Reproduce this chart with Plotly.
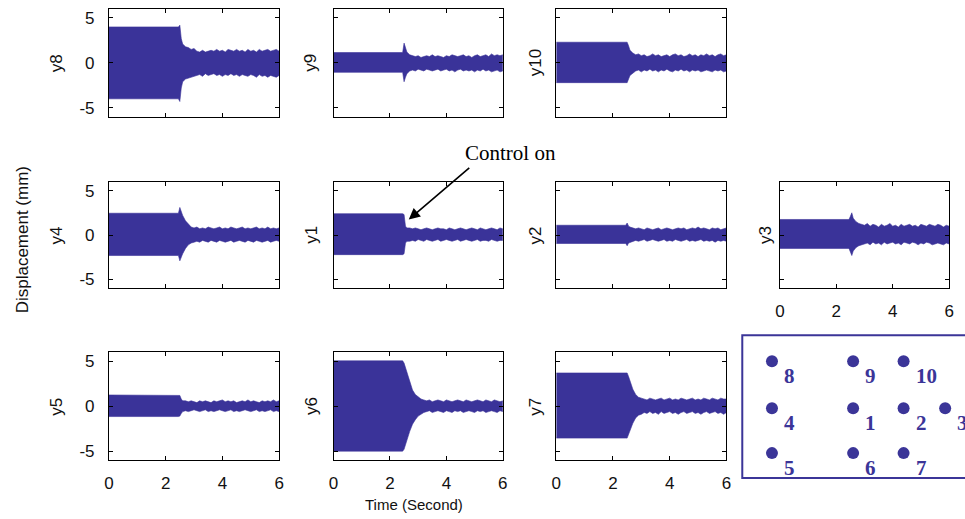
import plotly.graph_objects as go

# ---------------- data ----------------
T = [0, 2.45, 2.5, 2.55, 2.6, 2.7, 2.8, 2.9, 3.0, 3.1, 3.2, 3.3, 3.4, 3.5, 3.6, 3.7, 3.8, 3.9,
     4.0, 4.1, 4.2, 4.3, 4.4, 4.5, 4.6, 4.7, 4.8, 4.9, 5.0, 5.1, 5.2, 5.3, 5.4, 5.5, 5.6, 5.7,
     5.8, 5.9, 6.0]

y8_up = [4.0, 4.0, 4.2, 2.7, 2.1, 1.8, 1.7, 1.5, 1.6, 1.3, 1.2, 1.4, 1.2, 1.3, 1.4, 1.3, 1.5, 1.3, 1.4, 1.2, 1.5, 1.4, 1.3, 1.5, 1.3, 1.4, 1.2, 1.5, 1.3, 1.4, 1.2, 1.5, 1.3, 1.4, 1.5, 1.3, 1.4, 1.5, 1.3]
y8_lo = [-4.0, -4.0, -4.3, -2.8, -2.1, -1.8, -1.7, -1.6, -1.5, -1.4, -1.3, -1.5, -1.2, -1.4, -1.3, -1.2, -1.4, -1.3, -1.5, -1.3, -1.4, -1.2, -1.4, -1.3, -1.5, -1.3, -1.4, -1.5, -1.3, -1.4, -1.6, -1.3, -1.5, -1.4, -1.6, -1.4, -1.5, -1.6, -1.4]

y9_up = [1.15, 1.15, 2.2, 1.6, 1.2, 0.9, 0.8, 0.7, 0.8, 0.6, 0.7, 0.8, 0.7, 0.9, 0.7, 0.8, 0.7, 0.6, 0.8, 0.7, 0.9, 0.8, 0.7, 0.8, 0.9, 0.7, 0.8, 0.6, 0.8, 0.9, 0.7, 0.8, 0.9, 0.7, 1.0, 0.8, 0.9, 0.8, 0.9]
y9_lo = [-1.05, -1.05, -2.1, -1.6, -1.2, -0.9, -0.8, -0.9, -0.7, -0.8, -0.9, -0.7, -0.8, -0.9, -0.8, -0.7, -0.9, -0.8, -0.7, -0.9, -0.8, -1.0, -0.8, -0.7, -0.9, -0.8, -0.9, -0.8, -1.0, -0.8, -0.9, -0.7, -0.9, -0.8, -1.0, -0.9, -0.8, -1.0, -0.9]

y10_up = [2.3, 2.3, 2.3, 1.9, 1.4, 1.1, 0.9, 1.0, 0.8, 0.9, 0.7, 0.8, 1.0, 0.8, 0.9, 0.7, 0.8, 0.9, 0.7, 0.9, 1.0, 0.8, 0.9, 0.7, 0.8, 1.0, 0.8, 0.9, 0.7, 0.9, 0.8, 1.0, 0.8, 0.9, 0.7, 0.9, 1.0, 0.8, 0.9]
y10_lo = [-2.2, -2.2, -2.2, -1.8, -1.4, -1.1, -0.9, -0.8, -1.0, -0.8, -0.9, -0.7, -0.9, -0.8, -1.0, -0.8, -0.9, -0.7, -0.9, -1.0, -0.8, -0.9, -0.7, -0.9, -0.8, -1.0, -0.8, -0.9, -0.8, -1.0, -0.9, -0.8, -0.9, -1.0, -0.8, -0.9, -0.8, -1.0, -0.9]

y4_up = [2.45, 2.45, 3.1, 2.6, 2.2, 1.6, 1.2, 0.9, 0.8, 0.9, 0.7, 0.8, 0.7, 0.9, 0.8, 0.7, 0.8, 0.9, 0.7, 0.8, 0.7, 0.9, 0.8, 0.7, 0.8, 0.9, 0.7, 0.8, 0.7, 0.8, 0.9, 0.7, 0.8, 0.7, 0.9, 0.7, 0.8, 0.7, 0.8]
y4_lo = [-2.3, -2.3, -2.9, -2.5, -2.1, -1.5, -1.1, -0.9, -0.8, -0.7, -0.8, -0.6, -0.7, -0.8, -0.6, -0.7, -0.8, -0.6, -0.7, -0.8, -0.7, -0.6, -0.8, -0.7, -0.6, -0.7, -0.8, -0.6, -0.7, -0.8, -0.6, -0.7, -0.8, -0.7, -0.6, -0.8, -0.7, -0.6, -0.7]

y1_up = [2.4, 2.4, 2.3, 1.0, 0.8, 0.8, 0.7, 0.8, 0.7, 0.6, 0.7, 0.8, 0.7, 0.6, 0.7, 0.8, 0.7, 0.7, 0.6, 0.8, 0.7, 0.6, 0.7, 0.8, 0.7, 0.6, 0.7, 0.8, 0.7, 0.6, 0.8, 0.7, 0.6, 0.7, 0.8, 0.7, 0.6, 0.8, 0.7]
y1_lo = [-2.2, -2.2, -2.1, -0.9, -0.7, -0.7, -0.6, -0.7, -0.5, -0.6, -0.7, -0.5, -0.6, -0.7, -0.6, -0.5, -0.7, -0.6, -0.5, -0.6, -0.7, -0.6, -0.5, -0.7, -0.6, -0.5, -0.6, -0.7, -0.6, -0.5, -0.7, -0.6, -0.6, -0.7, -0.5, -0.6, -0.7, -0.6, -0.6]

y2_up = [1.1, 1.1, 1.35, 1.0, 0.9, 0.8, 0.7, 0.8, 0.7, 0.6, 0.8, 0.7, 0.6, 0.7, 0.8, 0.6, 0.7, 0.8, 0.7, 0.6, 0.7, 0.8, 0.7, 0.8, 0.6, 0.7, 0.8, 0.7, 0.9, 0.7, 0.8, 0.7, 0.6, 0.8, 0.7, 0.8, 0.6, 0.7, 0.8]
y2_lo = [-0.95, -0.95, -1.2, -0.9, -0.8, -0.7, -0.6, -0.7, -0.6, -0.5, -0.7, -0.6, -0.5, -0.6, -0.7, -0.6, -0.5, -0.7, -0.6, -0.7, -0.5, -0.6, -0.7, -0.6, -0.5, -0.7, -0.6, -0.7, -0.6, -0.5, -0.7, -0.6, -0.7, -0.6, -0.8, -0.6, -0.7, -0.6, -0.7]

y3_up = [1.75, 1.75, 2.1, 2.5, 1.9, 1.5, 1.3, 1.2, 1.1, 1.3, 1.0, 1.2, 1.1, 0.9, 1.2, 1.0, 1.1, 1.3, 1.0, 1.1, 0.9, 1.2, 1.0, 1.1, 1.2, 1.0, 1.1, 0.9, 1.2, 1.1, 1.0, 1.2, 1.1, 1.0, 1.2, 1.1, 0.9, 1.1, 1.0]
y3_lo = [-1.5, -1.5, -1.9, -2.3, -1.8, -1.4, -1.2, -1.1, -1.0, -0.9, -1.1, -0.8, -1.0, -0.9, -1.1, -0.8, -1.0, -0.9, -0.8, -1.0, -0.9, -1.1, -0.8, -0.9, -1.0, -0.8, -0.9, -1.1, -0.9, -1.0, -0.8, -0.9, -1.1, -1.0, -0.9, -1.0, -1.1, -0.9, -1.0]

y5_up = [1.25, 1.25, 1.2, 0.8, 0.6, 0.6, 0.5, 0.6, 0.5, 0.4, 0.6, 0.5, 0.6, 0.5, 0.4, 0.6, 0.5, 0.6, 0.7, 0.5, 0.6, 0.5, 0.6, 0.4, 0.5, 0.6, 0.5, 0.7, 0.5, 0.6, 0.5, 0.4, 0.6, 0.5, 0.6, 0.5, 0.7, 0.5, 0.6]
y5_lo = [-1.15, -1.15, -1.1, -0.8, -0.6, -0.5, -0.6, -0.5, -0.4, -0.5, -0.6, -0.5, -0.4, -0.6, -0.5, -0.6, -0.5, -0.4, -0.5, -0.6, -0.5, -0.4, -0.6, -0.5, -0.6, -0.5, -0.4, -0.5, -0.6, -0.5, -0.4, -0.6, -0.5, -0.6, -0.5, -0.4, -0.6, -0.5, -0.6]

y6_up = [5.05, 5.05, 4.8, 4.3, 3.7, 2.6, 1.8, 1.3, 1.0, 0.8, 0.7, 0.6, 0.7, 0.5, 0.6, 0.7, 0.6, 0.5, 0.7, 0.6, 0.5, 0.6, 0.7, 0.6, 0.5, 0.7, 0.6, 0.5, 0.6, 0.7, 0.6, 0.5, 0.7, 0.6, 0.5, 0.7, 0.6, 0.5, 0.6]
y6_lo = [-5.0, -5.0, -4.8, -4.4, -3.8, -2.8, -2.0, -1.5, -1.1, -0.9, -0.7, -0.6, -0.5, -0.7, -0.6, -0.5, -0.6, -0.7, -0.5, -0.6, -0.7, -0.5, -0.6, -0.5, -0.7, -0.6, -0.5, -0.6, -0.7, -0.5, -0.6, -0.5, -0.7, -0.6, -0.5, -0.6, -0.7, -0.5, -0.6]

y7_up = [3.7, 3.7, 3.7, 3.3, 2.8, 1.9, 1.3, 1.0, 0.9, 0.8, 0.7, 0.9, 0.8, 0.7, 0.8, 0.9, 0.7, 0.8, 0.9, 0.7, 0.8, 0.7, 0.9, 0.8, 0.7, 0.8, 0.9, 0.7, 0.8, 0.7, 0.9, 0.8, 0.7, 0.9, 0.8, 0.7, 0.9, 0.8, 0.8]
y7_lo = [-3.55, -3.55, -3.55, -3.2, -2.7, -1.9, -1.3, -1.0, -0.9, -0.7, -0.8, -0.6, -0.8, -0.7, -0.9, -0.6, -0.8, -0.7, -0.6, -0.8, -0.7, -0.9, -0.7, -0.6, -0.8, -0.7, -0.6, -0.8, -0.7, -0.9, -0.7, -0.6, -0.8, -0.7, -0.6, -0.8, -0.7, -0.9, -0.7]

series_names = ["y8", "y9", "y10", "y4", "y1", "y2", "y3", "y5", "y6", "y7"]
series_up = [y8_up, y9_up, y10_up, y4_up, y1_up, y2_up, y3_up, y5_up, y6_up, y7_up]
series_lo = [y8_lo, y9_lo, y10_lo, y4_lo, y1_lo, y2_lo, y3_lo, y5_lo, y6_lo, y7_lo]

x_ticks = [0, 2, 4, 6]
y_ticks = [-5, 0, 5]
y_tick_text = ["-5", "0", "5"]

sensor_ids = ["8", "9", "10", "4", "1", "2", "3", "5", "6", "7"]
sensor_x = [30, 112, 163, 30, 112, 163, 205, 30, 112, 163]
sensor_y = [26, 26, 26, 73, 73, 73, 73, 118, 118, 118]

for u, l in zip(series_up, series_lo):
    assert len(u) == len(T) and len(l) == len(T)

# ---------------- layout geometry ----------------
W, H = 965, 519
cols_px = [(105, 277), (332, 503), (557, 729), (783, 954)]
rows_px = [(9, 117), (182, 289), (353, 461)]
label_x_px = [52, 309, 536, 768]
# (row, col) of each series
grid = [(0, 0), (0, 1), (0, 2), (1, 0), (1, 1), (1, 2), (1, 3), (2, 0), (2, 1), (2, 2)]

FILL = "#3a3399"
FONT = "Liberation Sans, Arial, sans-serif"
SERIF = "Liberation Serif, Times New Roman, serif"

fig = go.Figure()
annotations = []
layout = {}

for i, (name, up, lo) in enumerate(zip(series_names, series_up, series_lo)):
    r, c = grid[i]
    k = i + 1
    xa = "x" if k == 1 else f"x{k}"
    ya = "y" if k == 1 else f"y{k}"
    fig.add_trace(go.Scatter(
        x=T + T[::-1], y=up + lo[::-1], fill="toself", mode="lines",
        line=dict(color=FILL, width=0.6), fillcolor=FILL,
        xaxis=xa, yaxis=ya, showlegend=False, hoverinfo="skip"))
    x0, x1 = cols_px[c]
    y0, y1 = rows_px[r]
    show_x = (r == 2) or (r == 1 and c == 3)
    show_y = (c == 0)
    layout["xaxis" if k == 1 else f"xaxis{k}"] = dict(
        domain=[x0 / W, x1 / W], anchor=ya, range=[0, 6],
        tickvals=x_ticks, ticks="inside", ticklen=4, tickcolor="black",
        showline=True, linecolor="black", linewidth=1, mirror="ticks",
        showgrid=False, zeroline=False, showticklabels=show_x,
        ticklabelstandoff=7,
        tickfont=dict(family=FONT, size=17, color="#111"))
    layout["yaxis" if k == 1 else f"yaxis{k}"] = dict(
        domain=[1 - y1 / H, 1 - y0 / H], anchor=xa, range=[-6, 6],
        tickvals=y_ticks, ticktext=y_tick_text, ticks="inside", ticklen=4,
        tickcolor="black", showline=True, linecolor="black", linewidth=1,
        mirror="ticks", showgrid=False, zeroline=False, showticklabels=show_y,
        ticklabelstandoff=10,
        tickfont=dict(family=FONT, size=17, color="#111"))
    annotations.append(dict(
        text=name, x=label_x_px[c] / W, y=1 - (y0 + y1) / 2 / H, xref="paper", yref="paper",
        showarrow=False, textangle=-90, xanchor="center", yanchor="middle",
        font=dict(family=FONT, size=17, color="#111")))

# sensor layout panel axis
layout["xaxis11"] = dict(domain=[745 / W, 1.0], range=[0, 220], anchor="y11", visible=False)
layout["yaxis11"] = dict(domain=[1 - 479 / H, 1 - 336 / H], range=[143, 0], anchor="x11", visible=False)
SENS = "#3b3598"
fig.add_trace(go.Scatter(
    x=sensor_x, y=sensor_y, mode="markers", xaxis="x11", yaxis="y11",
    marker=dict(size=12, color=SENS), showlegend=False, hoverinfo="skip", cliponaxis=False))
for sid, sx, sy in zip(sensor_ids, sensor_x, sensor_y):
    annotations.append(dict(
        text=f"<b>{sid}</b>", x=sx, y=sy, xref="x11", yref="y11", showarrow=False,
        xanchor="left", yanchor="middle", xshift=10, yshift=-15,
        font=dict(family=SERIF, size=21, color=SENS)))

annotations += [
    dict(text="Displacement (mm)", x=18 / W, y=1 - 240 / H, xref="paper", yref="paper",
         showarrow=False, textangle=-90, xanchor="center", yanchor="middle",
         font=dict(family=FONT, size=17, color="#111")),
    dict(text="Time (Second)", x=413 / W, y=1 - 505 / H, xref="paper", yref="paper",
         showarrow=False, xanchor="center", yanchor="middle",
         font=dict(family=FONT, size=15, color="#111")),
    dict(text="Control on", x=511 / W, y=1 - 153 / H, xref="paper", yref="paper",
         showarrow=False, xanchor="center", yanchor="middle",
         font=dict(family=SERIF, size=21, color="black")),
    dict(text="", x=408 / W, y=1 - 220 / H, xref="paper", yref="paper",
         showarrow=True, ax=62, ay=-53, arrowhead=2, arrowsize=1.4, arrowwidth=1.6,
         arrowcolor="black"),
]

fig.update_layout(
    **layout,
    width=W, height=H, margin=dict(l=0, r=0, t=0, b=0),
    paper_bgcolor="white", plot_bgcolor="white",
    annotations=annotations,
    shapes=[dict(type="rect", xref="paper", yref="paper",
                 x0=745 / W, x1=1.03, y0=1 - 479 / H, y1=1 - 336 / H,
                 line=dict(color=SENS, width=2), fillcolor="rgba(0,0,0,0)")],
)

fig.write_html("out.html", config={"displayModeBar": False},
               post_script="document.body.style.margin='0';document.body.style.overflow='hidden';")
